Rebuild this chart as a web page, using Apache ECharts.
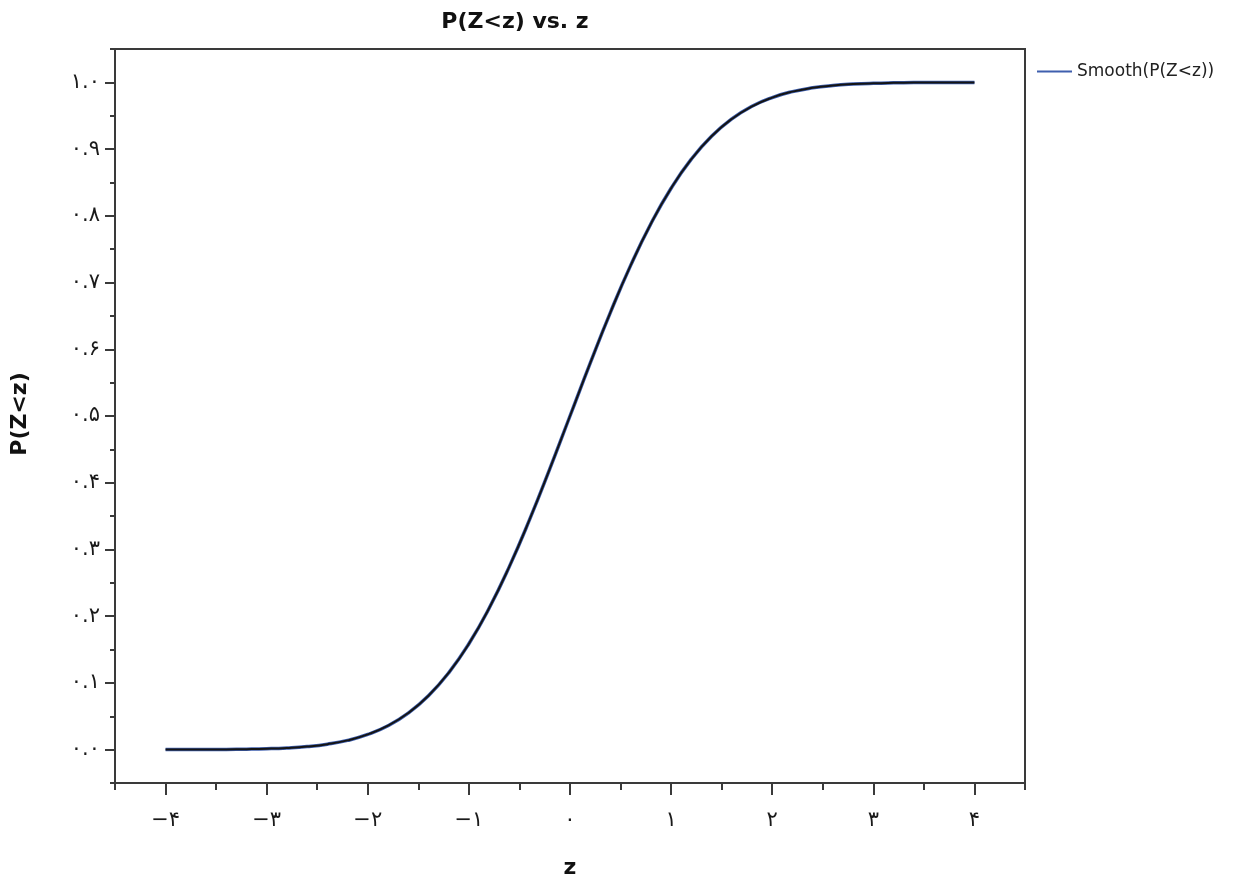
<!DOCTYPE html>
<html>
<head>
<meta charset="utf-8">
<script src="https://cdn.jsdelivr.net/npm/echarts@6/dist/echarts.min.js"></script>
<style>html,body{margin:0;padding:0;background:#fff;}#c{width:1240px;height:880px;}</style>
</head>
<body>
<div id="c"></div>
<script>
// Data
const zValues = [-4.0,-3.8,-3.6,-3.4,-3.2,-3.0,-2.8,-2.6,-2.4,-2.2,-2.0,-1.8,-1.6,-1.4,-1.2,-1.0,-0.8,-0.6,-0.4,-0.2,0,0.2,0.4,0.6,0.8,1.0,1.2,1.4,1.6,1.8,2.0,2.2,2.4,2.6,2.8,3.0,3.2,3.4,3.6,3.8,4.0];
const pValues = [0.00003,0.00007,0.00016,0.00034,0.00069,0.00135,0.00256,0.00466,0.0082,0.0139,0.0228,0.0359,0.0548,0.0808,0.1151,0.1587,0.2119,0.2743,0.3446,0.4207,0.5,0.5793,0.6554,0.7257,0.7881,0.8413,0.8849,0.9192,0.9452,0.9641,0.9772,0.9861,0.9918,0.9953,0.9974,0.99865,0.99931,0.99966,0.99984,0.99993,0.99997];
const xTickValues = [-4,-3,-2,-1,0,1,2,3,4];
const xTickLabels = ['−۴','−۳','−۲','−۱','۰','۱','۲','۳','۴'];
const yTickValues = [0,0.1,0.2,0.3,0.4,0.5,0.6,0.7,0.8,0.9,1.0];
const yTickLabels = ['۰.۰','۰.۱','۰.۲','۰.۳','۰.۴','۰.۵','۰.۶','۰.۷','۰.۸','۰.۹','۱.۰'];
const titleText = 'P(Z<z) vs. z';
const xName = 'z';
const yName = 'P(Z<z)';
const seriesName = 'Smooth(P(Z<z))';

const data = zValues.map((z, i) => [z, pValues[i]]);
const FONT = 'DejaVu Sans';
const AX = '#3a3a3a';

function lookup(vals, labels, v) {
  for (let i = 0; i < vals.length; i++) if (Math.abs(vals[i] - v) < 1e-6) return labels[i];
  return '';
}

const chart = echarts.init(document.getElementById('c'), null, {renderer: 'canvas'});
chart.setOption({
  animation: false,
  backgroundColor: '#ffffff',
  graphic: [
    {type: 'text', x: 515, y: 22,
     style: {text: titleText, font: 'bold 22px "DejaVu Sans"', fill: '#111', align: 'center', verticalAlign: 'middle'}},
    {type: 'text', x: 570, y: 868,
     style: {text: xName, font: 'bold 22px "DejaVu Sans"', fill: '#111', align: 'center', verticalAlign: 'middle'}},
    {type: 'text', x: 20, y: 414, rotation: Math.PI / 2,
     style: {text: yName, font: 'bold 22px "DejaVu Sans"', fill: '#111', align: 'center', verticalAlign: 'middle'}}
  ],
  legend: {
    left: 1037, top: 63, padding: 0, itemWidth: 35, itemHeight: 2, itemGap: 10,
    textStyle: {fontFamily: FONT, fontSize: 17, color: '#222'},
    data: [{name: seriesName, icon: 'rect', itemStyle: {color: '#3f5fae'}}]
  },
  grid: [
    {left: 115, right: 215, top: 49, bottom: 97, show: true, borderColor: AX, borderWidth: 2, backgroundColor: 'transparent', outerBoundsMode: 'none', containLabel: false},
    {left: 115, right: 215, top: 82.4, bottom: 130.4, outerBoundsMode: 'none', containLabel: false},
    {left: 165.6, right: 265.6, top: 49, bottom: 97, outerBoundsMode: 'none', containLabel: false}
  ],
  xAxis: [
    {gridIndex: 0, type: 'value', min: -4.5, max: 4.5, interval: 0.5,
     axisLine: {show: true, onZero: false, lineStyle: {color: AX, width: 2}},
     axisTick: {show: true, length: 7, lineStyle: {color: AX, width: 2}},
     axisLabel: {show: false}, splitLine: {show: false}},
    {gridIndex: 1, type: 'value', min: 0, max: 1, show: false, axisLine: {onZero: false}},
    {gridIndex: 2, type: 'value', min: -4, max: 4, interval: 1,
     axisLine: {show: false, onZero: false},
     axisTick: {show: true, length: 12, lineStyle: {color: AX, width: 2}},
     axisLabel: {show: true, margin: 27, fontFamily: FONT, fontSize: 21, color: '#1a1a1a',
       formatter: v => lookup(xTickValues, xTickLabels, v)},
     splitLine: {show: false}}
  ],
  yAxis: [
    {gridIndex: 0, type: 'value', min: -0.05, max: 1.05, interval: 0.05,
     axisLine: {show: true, onZero: false, lineStyle: {color: AX, width: 2}},
     axisTick: {show: true, length: 5, lineStyle: {color: AX, width: 2}},
     axisLabel: {show: false}, splitLine: {show: false}},
    {gridIndex: 1, type: 'value', min: 0, max: 1, interval: 0.1,
     axisLine: {show: false, onZero: false},
     axisTick: {show: true, length: 10, lineStyle: {color: AX, width: 2}},
     axisLabel: {show: true, margin: 15, fontFamily: FONT, fontSize: 21, color: '#1a1a1a',
       formatter: v => lookup(yTickValues, yTickLabels, v)},
     splitLine: {show: false}},
    {gridIndex: 2, type: 'value', min: 0, max: 1, show: false, axisLine: {onZero: false}}
  ],
  series: [
    {name: seriesName, type: 'line', xAxisIndex: 0, yAxisIndex: 0, data: data, smooth: true,
     symbol: 'none', lineStyle: {color: '#3f5fae', width: 3.5}, itemStyle: {color: '#3f5fae'}},
    {name: 'raw', type: 'line', xAxisIndex: 0, yAxisIndex: 0, data: data, smooth: true,
     symbol: 'none', lineStyle: {color: '#141414', width: 2}, itemStyle: {color: '#141414'}}
  ]
});
</script>
</body>
</html>
